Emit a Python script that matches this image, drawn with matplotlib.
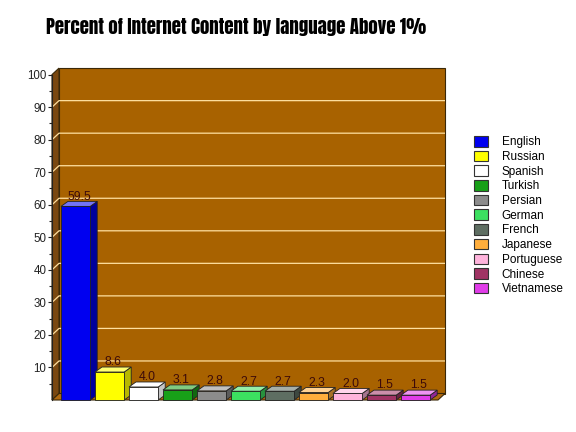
import matplotlib
matplotlib.use("Agg")
import matplotlib.pyplot as plt
from matplotlib.patches import Polygon, Patch
import matplotlib.colors as mcolors
import numpy as np

languages = ["English", "Russian", "Spanish", "Turkish", "Persian", "German",
             "French", "Japanese", "Portuguese", "Chinese", "Vietnamese"]
values = [59.5, 8.6, 4.0, 3.1, 2.8, 2.7, 2.7, 2.3, 2.0, 1.5, 1.5]
value_labels = ["59.5", "8.6", "4.0", "3.1", "2.8", "2.7", "2.7", "2.3", "2.0", "1.5", "1.5"]
colors = ["#0000F0", "#FFFF00", "#FFFFFF", "#18A018", "#8C8C8C", "#3CE060",
          "#5E6E62", "#FFAE3C", "#FFB4DC", "#A03464", "#E03CE8"]
title = "Percent of Internet Content by language Above 1%"
yticks = list(range(10, 101, 10))

plt.rcParams['font.family'] = ['Liberation Sans', 'DejaVu Sans']

W, H = 576, 432
fig = plt.figure(figsize=(W / 100, H / 100), dpi=100)
fig.patch.set_facecolor("white")

ax_left, ax_right, ax_bot, ax_top = 52, 438, 400, 74.6
ax = fig.add_axes([ax_left / W, (H - ax_bot) / H, (ax_right - ax_left) / W, (ax_bot - ax_top) / H])
xmin, xmax = -0.694, 10.66
ax.set_xlim(xmin, xmax)
ax.set_ylim(0, 100)
ax.patch.set_visible(False)

pxx = (ax_right - ax_left) / (xmax - xmin)
pxy = (ax_bot - ax_top) / 100.0
wdx, wdy = 7 / pxx, 6.5 / pxy
bdx, bdy = 7 / pxx, 5 / pxy

wall_c = "#A86200"
side_c = "#7A4810"
floor_c = "#B06A10"
edge_c = "#3A2808"
grid_c = "#FFE0A0"

# back wall
ax.add_patch(Polygon([(xmin + wdx, wdy), (xmax + wdx, wdy), (xmax + wdx, 100 + wdy), (xmin + wdx, 100 + wdy)],
                     closed=True, facecolor=wall_c, edgecolor=edge_c, lw=0.8, clip_on=False, zorder=1))
# side wall
ax.add_patch(Polygon([(xmin, 0), (xmin + wdx, wdy), (xmin + wdx, 100 + wdy), (xmin, 100)],
                     closed=True, facecolor=side_c, edgecolor=edge_c, lw=0.8, clip_on=False, zorder=1))
# floor
ax.add_patch(Polygon([(xmin, 0), (xmax, 0), (xmax + wdx, wdy), (xmin + wdx, wdy)],
                     closed=True, facecolor=floor_c, edgecolor=edge_c, lw=0.8, clip_on=False, zorder=1))
# gridlines
for v in yticks[:-1]:
    ax.plot([xmin, xmin + wdx, xmax + wdx], [v, v + wdy, v + wdy], color=grid_c, lw=0.9,
            clip_on=False, zorder=2, solid_capstyle="butt")

def mix(c, t, amt):
    a = np.array(mcolors.to_rgb(c)); b = np.array(mcolors.to_rgb(t))
    return tuple(a * (1 - amt) + b * amt)

hw = 0.43
for i, (v, c, lab) in enumerate(zip(values, colors, value_labels)):
    z = 3 + i * 0.1
    x0, x1 = i - hw, i + hw
    top_c = mix(c, "white", 0.45)
    sd_c = mix(c, "black", 0.35) if c != "#FFFFFF" else "#C4C4C4"
    if c == "#FFFF00":
        sd_c = "#B8B800"
    ax.add_patch(Polygon([(x1, 0), (x1 + bdx, bdy), (x1 + bdx, v + bdy), (x1, v)], closed=True,
                         facecolor=sd_c, edgecolor="#222222", lw=0.6, clip_on=False, zorder=z))
    ax.add_patch(Polygon([(x0, v), (x1, v), (x1 + bdx, v + bdy), (x0 + bdx, v + bdy)], closed=True,
                         facecolor=top_c, edgecolor="#222222", lw=0.6, clip_on=False, zorder=z))
    ax.add_patch(Polygon([(x0, 0), (x1, 0), (x1, v), (x0, v)], closed=True,
                         facecolor=c, edgecolor="#222222", lw=0.6, clip_on=False, zorder=z))
    ax.text(i + 0.1, v + bdy - 0.4, lab, ha="center", va="bottom", fontsize=8.8,
            color="#3C0A0A", zorder=10, clip_on=False)

for s in ["top", "right", "bottom"]:
    ax.spines[s].set_visible(False)
ax.spines["left"].set_color("#222222")
ax.spines["left"].set_linewidth(0.8)
ax.spines["left"].set_zorder(2.5)
ax.set_xticks([])
ax.set_yticks(yticks)
ax.set_yticks(list(range(5, 100, 10)), minor=True)
ax.tick_params(axis="y", which="major", length=3, width=0.8, pad=1, labelsize=8.3, color="#222222", labelcolor="#222222")
ax.tick_params(axis="y", which="minor", length=2, width=0.8, color="#222222")

handles = [Patch(facecolor=c, edgecolor="#333333", lw=0.8) for c in colors]
leg = ax.legend(handles, languages, loc="upper left", bbox_to_anchor=(474 / W, 1 - 136 / H),
                bbox_transform=fig.transFigure, frameon=False, fontsize=8.5,
                handlelength=1.15, handleheight=1.0, handletextpad=1.2, labelspacing=0.2,
                borderaxespad=0, borderpad=0)

fig.text(236 / W, 1 - 27 / H, title, ha="center", va="center", fontsize=13.6,
         family=["Anton", "Liberation Sans", "DejaVu Sans"], color="black")

fig.savefig("out.png", dpi=100, facecolor="white")
